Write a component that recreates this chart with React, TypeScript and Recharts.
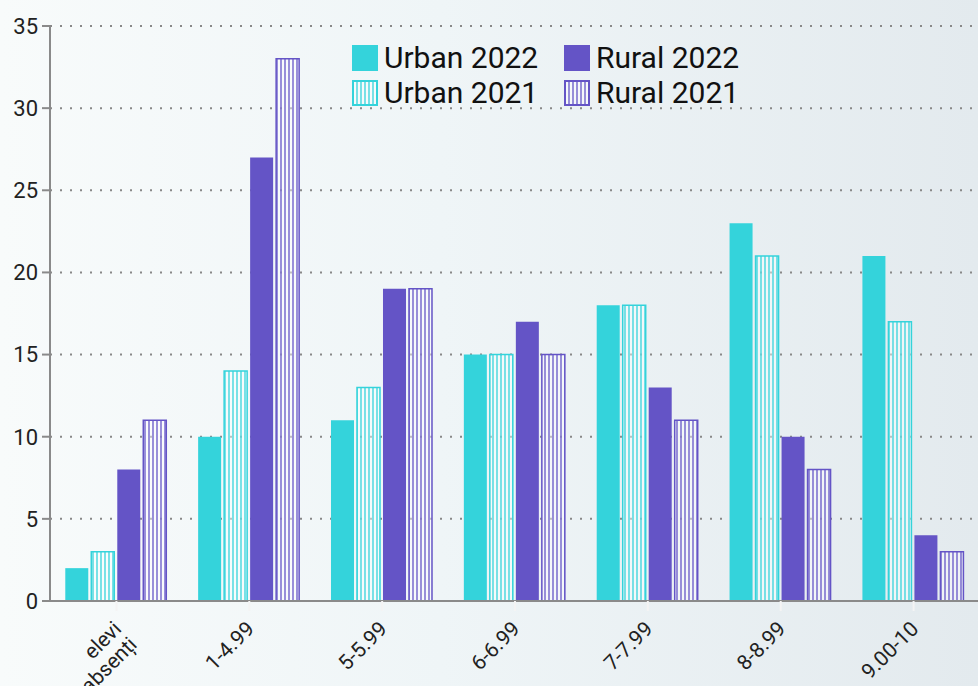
import { BarChart, Bar, XAxis, YAxis, CartesianGrid, Legend } from 'recharts';

const categories = ['elevi absenți', '1-4.99', '5-5.99', '6-6.99', '7-7.99', '8-8.99', '9.00-10'];
const urban2022 = [2, 10, 11, 15, 18, 23, 21];
const urban2021 = [3, 14, 13, 15, 18, 21, 17];
const rural2022 = [8, 27, 19, 17, 13, 10, 4];
const rural2021 = [11, 33, 19, 15, 11, 8, 3];
const yTicks = [0, 5, 10, 15, 20, 25, 30, 35];

const CYAN = '#34d3db';
const PURPLE = '#6454c6';

const data = categories.map((name, i) => ({
  name,
  u22: urban2022[i],
  u21: urban2021[i],
  r22: rural2022[i],
  r21: rural2021[i],
}));

const XTick = (props: any) => {
  const { x, y, payload } = props;
  const words = String(payload.value).split(' ');
  return (
    <g transform={`translate(${x + 1},${y + 12})`}>
      <text transform="rotate(-45)" textAnchor="end" fill="#222" fontSize={21} fontFamily="Roboto">
        {words.map((w, i) => (
          <tspan key={i} x={0} dy={i === 0 ? '0.35em' : '1.05em'}>
            {w}
          </tspan>
        ))}
      </text>
    </g>
  );
};

const legendItems = [
  { label: 'Urban 2022', color: CYAN, hatch: false },
  { label: 'Urban 2021', color: CYAN, hatch: true },
  { label: 'Rural 2022', color: PURPLE, hatch: false },
  { label: 'Rural 2021', color: PURPLE, hatch: true },
];

const LegendBox = () => (
  <div
    style={{
      display: 'grid',
      gridTemplateColumns: '212px auto',
      gridTemplateRows: '35px 35px',
      gridAutoFlow: 'column',
      alignItems: 'center',
      fontFamily: 'Roboto',
      fontSize: 30,
      color: '#111',
    }}
  >
    {legendItems.map((it) => (
      <div key={it.label} style={{ display: 'flex', alignItems: 'center' }}>
        <svg width={26} height={26} style={{ marginRight: 6 }}>
          {it.hatch ? (
            <rect x={1} y={1} width={24} height={24} fill={`url(#hatch-${it.color.slice(1)})`} stroke={it.color} strokeWidth={2} />
          ) : (
            <rect x={0} y={0} width={26} height={26} fill={it.color} />
          )}
        </svg>
        <span style={{ lineHeight: '26px' }}>{it.label}</span>
      </div>
    ))}
  </div>
);

export default function App() {
  return (
    <div
      style={{
        position: 'absolute',
        left: 0,
        top: 0,
        width: 978,
        height: 686,
        overflow: 'hidden',
        background: 'linear-gradient(90deg, #f8fbfb 0%, #eff5f7 45%, #e3eaee 100%)',
      }}
    >
      <BarChart
        width={980}
        height={686}
        data={data}
        margin={{ top: 26, right: 0, left: 0, bottom: 0 }}
        barCategoryGap="11.5%"
        barGap={3}
      >
        <defs>
          <pattern id="hatch-34d3db" width={4} height={4} patternUnits="userSpaceOnUse">
            <rect width={4} height={4} fill="#ffffff" fillOpacity={0.45} />
            <line x1={1} y1={0} x2={1} y2={4} stroke={CYAN} strokeWidth={1.3} />
          </pattern>
          <pattern id="hatch-6454c6" width={4} height={4} patternUnits="userSpaceOnUse">
            <rect width={4} height={4} fill="#ffffff" fillOpacity={0.45} />
            <line x1={1} y1={0} x2={1} y2={4} stroke={PURPLE} strokeWidth={1.3} />
          </pattern>
        </defs>
        <CartesianGrid vertical={false} stroke="#888" strokeWidth={2} strokeDasharray="2 8" />
        <XAxis
          dataKey="name"
          interval={0}
          height={85}
          axisLine={{ stroke: '#8a8a8a', strokeWidth: 2 }}
          tickLine={{ stroke: '#f4f4f4', strokeWidth: 2 }}
          tickSize={10}
          tick={<XTick />}
        />
        <YAxis
          width={50}
          domain={[0, 35]}
          ticks={yTicks}
          interval={0}
          axisLine={{ stroke: '#8a8a8a', strokeWidth: 2 }}
          tickLine={{ stroke: '#8a8a8a', strokeWidth: 2 }}
          tickSize={8}
          tickMargin={4}
          tick={{ fill: '#222', fontSize: 22, fontFamily: 'Roboto' }}
        />
        <Legend
          verticalAlign="middle"
          align="center"
          content={<LegendBox />}
          wrapperStyle={{ top: 40, left: 352, width: 'auto' }}
        />
        <Bar dataKey="u22" name="Urban 2022" fill={CYAN} isAnimationActive={false} />
        <Bar dataKey="u21" name="Urban 2021" fill="url(#hatch-34d3db)" stroke={CYAN} strokeWidth={1.5} isAnimationActive={false} />
        <Bar dataKey="r22" name="Rural 2022" fill={PURPLE} isAnimationActive={false} />
        <Bar dataKey="r21" name="Rural 2021" fill="url(#hatch-6454c6)" stroke={PURPLE} strokeWidth={1.5} isAnimationActive={false} />
      </BarChart>
    </div>
  );
}
